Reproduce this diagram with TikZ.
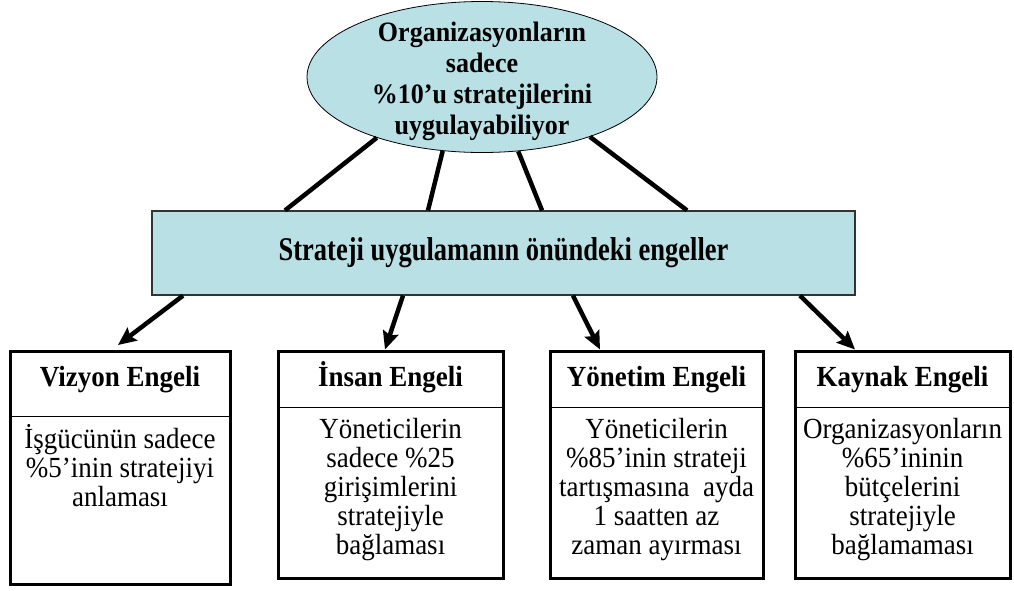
\documentclass[tikz,border=0pt]{standalone}
\usepackage{fontspec}
\setmainfont{Liberation Serif}
\usetikzlibrary{arrows.meta,shapes.geometric}
\definecolor{paleteal}{RGB}{185,224,228}
% centred lines of text, slightly stretched in height
\newcommand\tallstack[2]{\scalebox{1}[#1]{\begin{tabular}{@{}c@{}}#2\end{tabular}}}
\begin{document}
\begin{tikzpicture}[x=1pt,y=-1pt,
  bubble/.style={ellipse,draw=black,line width=0.8pt,fill=paleteal,
    minimum width=350pt,minimum height=151pt,inner sep=0pt},
  bubbletext/.style={inner sep=0pt,font=\fontsize{26}{28.6}\selectfont\bfseries},
  banner/.style={rectangle,draw=black!80,line width=1.2pt,fill=paleteal,
    minimum width=703pt,minimum height=84pt,inner sep=0pt,
    font=\fontsize{26.5}{30}\selectfont\bfseries},
  frame/.style={rectangle,draw=black,line width=3pt,inner sep=0pt},
  head/.style={inner sep=0pt,anchor=base,font=\fontsize{27}{30}\selectfont\bfseries},
  body/.style={inner sep=0pt,font=\fontsize{27}{27}\selectfont},
  link/.style={line width=4.5pt},
  pointer/.style={line width=4.5pt,-{Stealth[length=18pt,width=16pt,inset=3pt]}},
  divider/.style={line width=1.5pt}
]
\useasboundingbox (0,0) rectangle (1014,590);

% top statement and the bar of obstacles
\node[bubble] (org) at (482,77) {};
\node[bubbletext] (orgtext) at ([yshift=-5pt]org.center)
  {\tallstack{1.08}{Organizasyonların\\sadece\\\%10’u stratejilerini\\uygulayabiliyor}};
\node[banner] (bar) at (503.5,253)
  {\scalebox{1}[1.25]{Strateji uygulamanın önündeki engeller}};

\draw[link] (org.210.2) -- ([xshift=-218.5pt]bar.north);
\draw[link] (org.242.8) -- ([xshift=-75.5pt]bar.north);
\draw[link] (org.296.6) -- ([xshift=38.5pt]bar.north);
\draw[link] (org.331.6) -- ([xshift=183.5pt]bar.north);

% the four obstacle boxes
\node[frame,minimum width=220pt,minimum height=233pt] (b1) at (120,467.5) {};
\node[frame,minimum width=225pt,minimum height=227pt] (b2) at (390.5,464.5) {};
\node[frame,minimum width=213pt,minimum height=227pt] (b3) at (656.5,464.5) {};
\node[frame,minimum width=215pt,minimum height=227pt] (b4) at (902.5,464.5) {};

\draw[divider] ([yshift=-67pt]b1.north west) -- ([yshift=-67pt]b1.north east);
\draw[divider] ([yshift=-58pt]b2.north west) -- ([yshift=-58pt]b2.north east);
\draw[divider] ([yshift=-58pt]b3.north west) -- ([yshift=-58pt]b3.north east);
\draw[divider] ([yshift=-58pt]b4.north west) -- ([yshift=-58pt]b4.north east);

\node[head] (h1) at (120,386) {\scalebox{1}[1.08]{Vizyon Engeli}};
\node[head] (h2) at (390.5,386) {\scalebox{1}[1.08]{İnsan Engeli}};
\node[head] (h3) at (656.5,386) {\scalebox{1}[1.08]{Yönetim Engeli}};
\node[head] (h4) at (902.5,386) {\scalebox{1}[1.08]{Kaynak Engeli}};

\node[body] (t1) at (120,470)
  {\tallstack{1.08}{İşgücünün sadece\\\%5’inin stratejiyi\\anlaması}};
\node[body] (t2) at (390.5,490.5)
  {\tallstack{1.08}{Yöneticilerin\\sadece \%25\\girişimlerini\\stratejiyle\\bağlaması}};
\node[body] (t3) at (656.5,490.5)
  {\tallstack{1.08}{Yöneticilerin\\\%85’inin strateji\\tartışmasına~ ayda\\1 saatten az\\zaman ayırması}};
\node[body] (t4) at (902.5,490.5)
  {\tallstack{1.08}{Organizasyonların\\\%65’ininin\\bütçelerini\\stratejiyle\\bağlamaması}};

% arrows from the bar down to the boxes
\draw[pointer] ([xshift=-320.5pt]bar.south) -- ([xshift=-2pt,yshift=4.5pt]b1.north);
\draw[pointer] ([xshift=-100.5pt]bar.south) -- ([xshift=-5.5pt]b2.north);
\draw[pointer] ([xshift=69.5pt]bar.south) -- ([xshift=-56.5pt]b3.north);
\draw[pointer] ([xshift=296.5pt]bar.south) -- ([xshift=-47.5pt]b4.north);
\end{tikzpicture}
\end{document}
